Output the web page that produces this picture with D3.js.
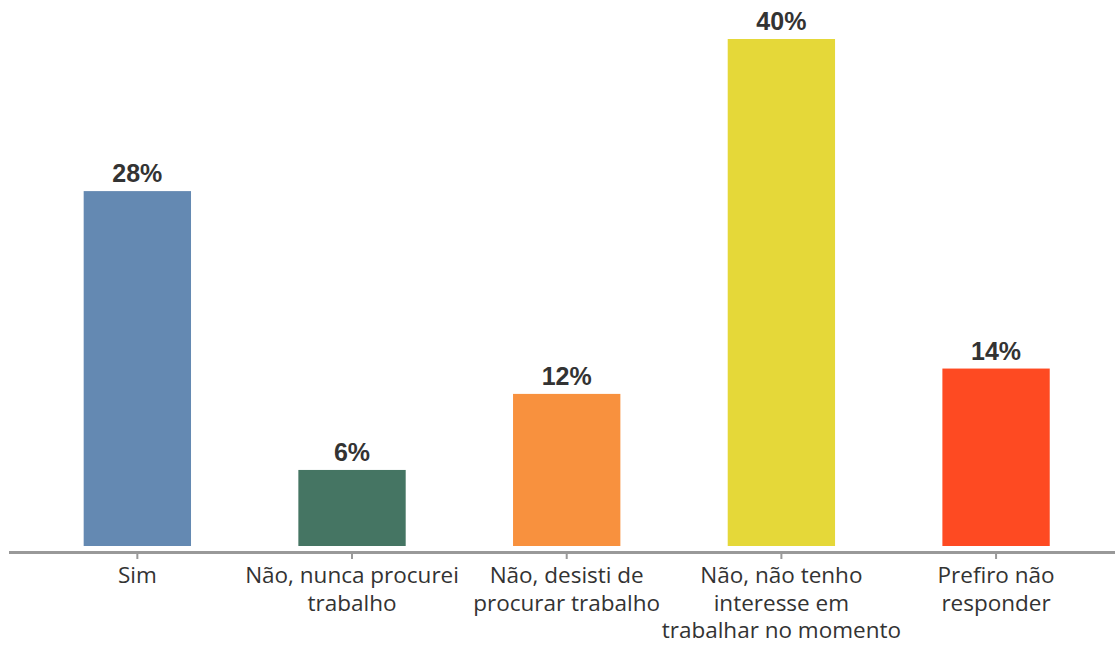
<!DOCTYPE html>
<html>
<head>
<meta charset="utf-8">
<script src="https://cdn.jsdelivr.net/npm/d3@7"></script>
<style>
  body { margin: 0; background: #fff; }
  .value-label { font-family: "Liberation Sans", Arial, sans-serif; font-weight: bold; font-size: 25px; fill: #333; }
  .cat-label { font-family: "Open Sans", "Noto Sans", sans-serif; font-size: 22.5px; fill: #333; }
</style>
</head>
<body>
<div id="chart"></div>
<script>
const categories = [
    ["Sim"],
    ["Não, nunca procurei", "trabalho"],
    ["Não, desisti de", "procurar trabalho"],
    ["Não, não tenho", "interesse em", "trabalhar no momento"],
    ["Prefiro não", "responder"]
];
const values = [28, 6, 12, 40, 14];
const colors = ["#6489b2", "#457563", "#f8913e", "#e5d839", "#fe4a22"];

const width = 1115;
const height = 648;
const baseline = 546;

const svg = d3.select("#chart")
    .append("svg")
    .attr("width", width)
    .attr("height", height);

const xScale = d3.scaleBand()
    .domain(d3.range(values.length))
    .range([30, 1103.4])
    .paddingInner(0.5)
    .paddingOuter(0.25);

const yScale = d3.scaleLinear()
    .domain([0, 40])
    .range([baseline, 39]);

svg.selectAll("rect")
    .data(values)
    .join("rect")
    .attr("x", (d, i) => xScale(i))
    .attr("y", d => yScale(d))
    .attr("width", xScale.bandwidth())
    .attr("height", d => baseline - yScale(d))
    .attr("fill", (d, i) => colors[i]);

svg.selectAll(".value-label")
    .data(values)
    .join("text")
    .attr("class", "value-label")
    .attr("x", (d, i) => xScale(i) + xScale.bandwidth() / 2)
    .attr("y", d => yScale(d) - 9)
    .attr("text-anchor", "middle")
    .text(d => d + "%");

// axis line and ticks
svg.append("line")
    .attr("x1", 9)
    .attr("x2", width)
    .attr("y1", 552.5)
    .attr("y2", 552.5)
    .attr("stroke", "#999")
    .attr("stroke-width", 3);

svg.selectAll(".tick")
    .data(values)
    .join("line")
    .attr("class", "tick")
    .attr("x1", (d, i) => xScale(i) + xScale.bandwidth() / 2)
    .attr("x2", (d, i) => xScale(i) + xScale.bandwidth() / 2)
    .attr("y1", 552)
    .attr("y2", 559)
    .attr("stroke", "#999")
    .attr("stroke-width", 2);

const labels = svg.selectAll(".cat-label")
    .data(categories)
    .join("text")
    .attr("class", "cat-label")
    .attr("text-anchor", "middle")
    .attr("x", (d, i) => xScale(i) + xScale.bandwidth() / 2)
    .attr("y", 583);

labels.selectAll("tspan")
    .data(d => d)
    .join("tspan")
    .attr("x", function () { return this.parentNode.getAttribute("x"); })
    .attr("dy", (d, j) => j === 0 ? 0 : 27.5)
    .text(d => d);
</script>
</body>
</html>
